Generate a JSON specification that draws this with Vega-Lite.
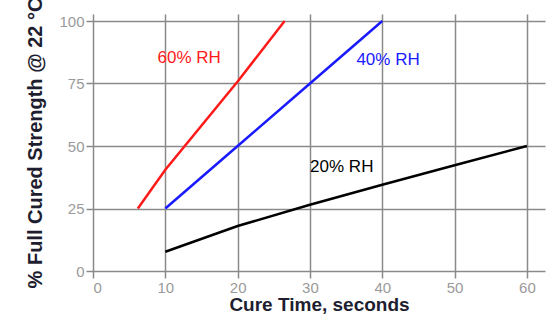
{
  "$schema": "https://vega.github.io/schema/vega-lite/v6.json",
  "autosize": {"type": "none"},
  "width": 452,
  "height": 257,
  "padding": {"left": 93, "top": 14, "right": 9, "bottom": 49},
  "background": "white",
  "config": {
    "view": {"stroke": null},
    "font": "Liberation Sans",
    "axis": {
      "gridColor": "#8a8a8a",
      "gridWidth": 1.5,
      "gridOpacity": 1,
      "domain": false,
      "tickColor": "#8a8a8a",
      "tickWidth": 1.5,
      "tickSize": 7,
      "labelColor": "#9a9a9a",
      "labelFont": "Liberation Sans",
      "labelFontSize": 15,
      "titleFont": "Liberation Sans",
      "titleFontSize": 19,
      "titleFontWeight": "bold",
      "titleColor": "#1e1e30"
    }
  },
  "datasets": {
    "curves": [
      {"series": "60% RH", "time": 6.2, "strength": 25},
      {"series": "60% RH", "time": 10, "strength": 40.5},
      {"series": "60% RH", "time": 20, "strength": 75.8},
      {"series": "60% RH", "time": 26.5, "strength": 100},
      {"series": "40% RH", "time": 10, "strength": 25},
      {"series": "40% RH", "time": 20, "strength": 50},
      {"series": "40% RH", "time": 30, "strength": 75},
      {"series": "40% RH", "time": 40, "strength": 100},
      {"series": "20% RH", "time": 10, "strength": 7.7},
      {"series": "20% RH", "time": 20, "strength": 18},
      {"series": "20% RH", "time": 30, "strength": 26.5},
      {"series": "20% RH", "time": 40, "strength": 34.5},
      {"series": "20% RH", "time": 50, "strength": 42.3},
      {"series": "20% RH", "time": 60, "strength": 50}
    ],
    "labels": [
      {"series": "60% RH", "time": 13.3, "strength": 85.2},
      {"series": "40% RH", "time": 40.8, "strength": 84.4},
      {"series": "20% RH", "time": 34.4, "strength": 41.8}
    ]
  },
  "encoding": {
    "x": {
      "field": "time", "type": "quantitative",
      "scale": {"domain": [0, 62.5], "nice": false, "zero": false},
      "axis": {"values": [0, 10, 20, 30, 40, 50, 60], "title": "Cure Time, seconds", "labelPadding": 2, "titlePadding": 0}
    },
    "y": {
      "field": "strength", "type": "quantitative",
      "scale": {"domain": [0, 102.8], "nice": false},
      "axis": {"values": [0, 25, 50, 75, 100], "title": "% Full Cured Strength @ 22 °C", "titleFontSize": 20, "labelPadding": 2, "titlePadding": 13}
    },
    "color": {
      "field": "series", "type": "nominal",
      "scale": {"domain": ["60% RH", "40% RH", "20% RH"], "range": ["#ff1a1a", "#1a1aff", "#000000"]},
      "legend": null
    }
  },
  "layer": [
    {"data": {"name": "curves"}, "mark": {"type": "line", "strokeWidth": 2.5}},
    {"data": {"name": "labels"}, "mark": {"type": "text", "fontSize": 17, "font": "Liberation Sans"}, "encoding": {"text": {"field": "series"}}}
  ]
}
